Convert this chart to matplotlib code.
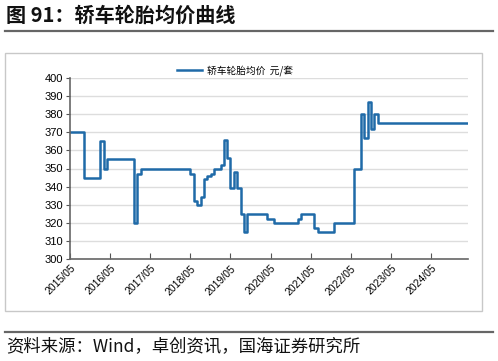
import matplotlib
matplotlib.use("Agg")
import matplotlib.pyplot as plt
import pandas as pd

plt.rcParams['font.family'] = ['Liberation Sans', 'Noto Sans CJK SC', 'DejaVu Sans']

# 价格变动点（月度，阶梯）
dates = ['2015-05', '2015-09', '2016-02', '2016-03', '2016-04', '2016-12', '2017-01',
         '2017-02', '2018-05', '2018-06', '2018-07', '2018-08', '2018-09', '2018-10',
         '2018-11', '2018-12', '2019-02', '2019-03', '2019-04', '2019-05', '2019-06',
         '2019-07', '2019-08', '2019-09', '2019-10', '2020-04', '2020-06', '2021-01',
         '2021-02', '2021-06', '2021-07', '2021-12', '2022-06', '2022-08', '2022-09',
         '2022-10', '2022-11', '2022-12', '2023-01', '2025-04']
prices = [370, 345, 365, 350, 355, 320, 347,
          350, 347, 332, 330, 334, 344, 346,
          347, 350, 352, 366, 356, 339, 348,
          339, 325, 315, 325, 322, 320, 322,
          325, 317, 315, 320, 350, 380, 367,
          387, 372, 380, 375, 375]
tick_dates = ['2015-05', '2016-05', '2017-05', '2018-05', '2019-05',
              '2020-05', '2021-05', '2022-05', '2023-05', '2024-05']
tick_labels = [d.replace('-', '/') for d in tick_dates]

x = pd.to_datetime(dates)
ticks = pd.to_datetime(tick_dates)

fig = plt.figure(figsize=(4.98, 3.61), dpi=100)

# 外框
frame = plt.Rectangle((5 / 498, 1 - 311 / 361), 477 / 498, 258 / 361,
                      transform=fig.transFigure, fill=False,
                      edgecolor='#c8c8c8', linewidth=1)
fig.add_artist(frame)

# 标题和分隔线
fig.text(6 / 498, 1 - 15 / 361, '图 91：轿车轮胎均价曲线', fontsize=14.5, fontweight='bold',
         family=['Noto Sans CJK SC'], va='center', ha='left', color='#111111')
fig.add_artist(plt.Line2D([5 / 498, 493 / 498], [1 - 31 / 361, 1 - 31 / 361],
                          transform=fig.transFigure, color='#666666', linewidth=1.6))
fig.add_artist(plt.Line2D([5 / 498, 493 / 498], [1 - 332 / 361, 1 - 332 / 361],
                          transform=fig.transFigure, color='#666666', linewidth=1.6))
fig.text(6 / 498, 1 - 347 / 361, '资料来源：Wind，卓创资讯，国海证券研究所', fontsize=12.5,
         family=['Noto Sans CJK SC'], va='center', ha='left', color='#111111')

ax = fig.add_axes([70 / 498, 1 - 259 / 361, 398 / 498, 181 / 361])
ax.step(x, prices, where='post', color='#1f6aa8', linewidth=1.8, label='轿车轮胎均价  元/套')

ax.set_ylim(300, 400)
ax.set_yticks(range(300, 401, 10))
ax.set_xlim(pd.Timestamp('2015-05-01'), pd.Timestamp('2025-04-01'))
ax.set_xticks(ticks)
ax.set_xticklabels(tick_labels, rotation=45, ha='right', rotation_mode='anchor', fontsize=7.5)
ax.tick_params(axis='y', labelsize=8, direction='out', length=3, color='#555555', pad=2)
ax.tick_params(axis='x', direction='in', length=4, color='#555555', pad=3)
ax.grid(axis='y', color='#dddddd', linewidth=1)
ax.set_axisbelow(True)
for side in ['top', 'right']:
    ax.spines[side].set_visible(False)
for side in ['left', 'bottom']:
    ax.spines[side].set_color('#666666')
    ax.spines[side].set_linewidth(1.2)

leg = ax.legend(loc='lower center', bbox_to_anchor=(0.415, 0.99), frameon=False,
                prop={'family': ['Noto Sans CJK SC'], 'size': 7}, handlelength=2.6,
                handletextpad=0.5, borderaxespad=0)

fig.savefig('out.png', dpi=100)
